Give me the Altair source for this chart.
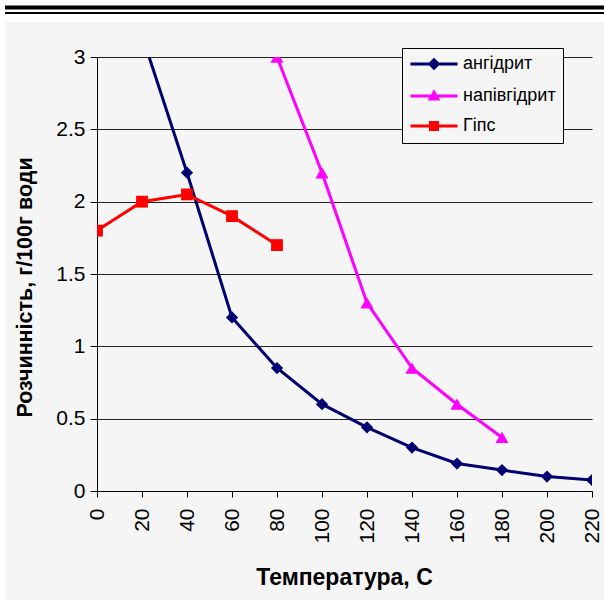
import altair as alt
import pandas as pd

# ---- data ----
series_names = ["ангідрит", "напівгідрит", "Гіпс"]
anh_t = [20, 40, 60, 80, 100, 120, 140, 160, 180, 200, 220]
anh_s = [3.15, 2.2, 1.2, 0.85, 0.6, 0.44, 0.3, 0.19, 0.145, 0.1, 0.076]
hemi_t = [80, 100, 120, 140, 160, 180]
hemi_s = [3.0, 2.2, 1.3, 0.85, 0.6, 0.37]
gyp_t = [0, 20, 40, 60, 80]
gyp_s = [1.8, 2.0, 2.05, 1.9, 1.7]
x_ticks = [0, 20, 40, 60, 80, 100, 120, 140, 160, 180, 200, 220]
y_ticks = [0, 0.5, 1, 1.5, 2, 2.5, 3]

colors = ["#000070", "#FF00FF", "#FF0000"]
marker_shapes = ["diamond", "triangle-up", "square"]
marker_sizes = [150, 170, 140]
# legend symbols: a line segment with the series marker on it
legend_paths = [
    "M-4.7,0H4.7M-0.85,0L0,-0.85L0.85,0L0,0.85Z",
    "M-4.7,0H4.7M0,-0.75L0.75,0.6L-0.75,0.6Z",
    "M-4.7,0H4.7M-0.7,-0.7H0.7V0.7H-0.7Z",
]

rows = []
for name, ts, ss in [(series_names[0], anh_t, anh_s),
                     (series_names[1], hemi_t, hemi_s),
                     (series_names[2], gyp_t, gyp_s)]:
    for t, s in zip(ts, ss):
        rows.append({"series": name, "t": t, "s": s})
df = pd.DataFrame(rows)

FONT = "Liberation Sans"
W, H = 495, 434

x_enc = alt.X("t:Q", scale=alt.Scale(domain=[0, 220], nice=False),
              axis=alt.Axis(values=x_ticks, grid=False, tickSize=6, tickColor="black",
                            domainColor="black", labelAngle=270, labelAlign="right",
                            labelBaseline="middle", labelPadding=11, labelFontSize=21,
                            labelFont=FONT, labelColor="black",
                            title="Температура, С", titleFont=FONT, titleFontSize=23,
                            titleFontWeight="bold", titleColor="black",
                            titleX=247, titleY=86, titleBaseline="middle"))
y_enc = alt.Y("s:Q", scale=alt.Scale(domain=[0, 3], nice=False),
              axis=alt.Axis(values=y_ticks, format="~g", grid=True, gridColor="#222222",
                            gridWidth=1, tickSize=7, tickColor="black", domainColor="black",
                            labelPadding=5, labelFontSize=21, labelFont=FONT,
                            labelColor="black",
                            title="Розчинність, г/100г води", titleFont=FONT,
                            titleFontSize=21.5, titleFontWeight="bold", titleColor="black",
                            titleAngle=270, titleX=-72, titleY=230,
                            titleBaseline="middle", titleAlign="center"))

color_scale = alt.Scale(domain=series_names, range=colors)

base = alt.Chart(df)

data_layers = []
for i, (name, shp, col, size) in enumerate(zip(series_names, marker_shapes, colors, marker_sizes)):
    sub = base.transform_filter(alt.datum.series == name)
    if i == 0:
        data_layers.append(sub.mark_line(clip=True, strokeWidth=3, color=col).encode(x=x_enc, y=y_enc))
    else:
        data_layers.append(sub.mark_line(clip=True, strokeWidth=3, color=col).encode(x="t:Q", y="s:Q"))
for name, shp, col, size in zip(series_names, marker_shapes, colors, marker_sizes):
    data_layers.append(
        base.transform_filter(alt.datum.series == name)
        .mark_point(clip=True, filled=True, shape=shp, size=size, color=col, opacity=1)
        .encode(x="t:Q", y="s:Q")
    )

legend_layer = base.mark_point(clip=True, filled=True, strokeWidth=3, size=100, opacity=1).encode(
    x="t:Q",
    y=alt.datum(10),
    color=alt.Color("series:N", scale=color_scale,
                    legend=alt.Legend(title=None, orient="none", legendX=305, legendY=-9,
                                      fillColor="#f5f5f5", strokeColor="black",
                                      padding=7, symbolOffset=16, labelOffset=20,
                                      rowPadding=11, labelFont=FONT, labelFontSize=18,
                                      labelColor="black", symbolStrokeWidth=3,
                                      symbolSize=100)),
    stroke=alt.Stroke("series:N", scale=color_scale),
    shape=alt.Shape("series:N", scale=alt.Scale(domain=series_names, range=legend_paths)),
)

deco = pd.DataFrame({"k": [0]})
white_top = alt.Chart(deco).mark_rect(color="white").encode(
    x=alt.value(-97), x2=alt.value(507), y=alt.value(-57), y2=alt.value(-35))
white_left = alt.Chart(deco).mark_rect(color="white").encode(
    x=alt.value(-97), x2=alt.value(-92), y=alt.value(-57), y2=alt.value(543))
thick = alt.Chart(deco).mark_rule(color="black", strokeWidth=4).encode(
    x=alt.value(-92), x2=alt.value(507), y=alt.value(-49.5))
thin = alt.Chart(deco).mark_rule(color="black", strokeWidth=2).encode(
    x=alt.value(-92), x2=alt.value(507), y=alt.value(-44))

chart = alt.layer(
    white_top, white_left, thick, thin, *data_layers, legend_layer
).properties(
    width=W, height=H,
    padding={"left": 97, "top": 57, "right": 12, "bottom": 109},
    autosize=alt.AutoSizeParams(type="none"),
    background="#f5f5f5",
).configure_view(strokeWidth=0)

chart.save("out.html", embed_options={"renderer": "svg", "actions": False})
